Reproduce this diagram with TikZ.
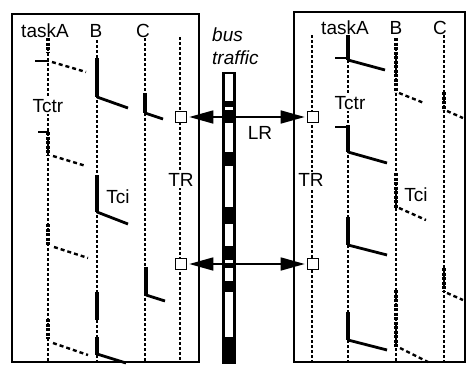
\documentclass[tikz,border=0pt]{standalone}
\usepackage{fontspec}
\setmainfont{Liberation Sans}
\usetikzlibrary{arrows.meta}
\begin{document}
\begin{tikzpicture}[x=1pt,y=-1pt,
  frame/.style={line width=2.3pt},
  lifeline/.style={line width=2.3pt, dash pattern=on 2.8pt off 2.2pt},
  busyline/.style={line width=4pt, dash pattern=on 3.2pt off 1.3pt},
  execbar/.style={line width=4.4pt},
  retline/.style={line width=2.8pt},
  msgline/.style={line width=2.4pt, dash pattern=on 4pt off 3pt},
  tickline/.style={line width=2.2pt},
  port/.style={draw, fill=white, line width=1.6pt, minimum size=11pt, inner sep=0pt},
  lbl/.style={font=\fontsize{19}{22}\selectfont, inner sep=1pt},
  cutlbl/.style={lbl, fill=white, inner sep=1.5pt},
  busarrow/.style={line width=1.6pt, {Triangle[length=24pt,width=13pt]}-{Triangle[length=24pt,width=13pt]}, shorten <=2pt, shorten >=2pt}
]
\useasboundingbox (0,0) rectangle (468,364);

% ---------------- left processor ----------------
\draw[frame] (12,14) rectangle (199,362);
\node[lbl, anchor=base] (lA) at (45,37) {taskA};
\node[lbl, anchor=base] (lB) at (96,37) {B};
\node[lbl, anchor=base] (lC) at (143,37) {C};

% taskA
\draw[lifeline] (48,38) -- (48,362);
\draw[busyline] (48,38) -- (48,52);
\draw[tickline] (35,61) -- (49,61);
\draw[msgline] (52,62) -- (86,72);
\draw[tickline] (38,132) -- (49,132);
\draw[busyline] (48,132) -- (48,155);
\draw[msgline] (53,156) -- (86,166);
\draw[busyline] (48,224) -- (48,245);
\draw[msgline] (54,247) -- (88,258);
\draw[busyline] (48,319) -- (48,339);
\draw[msgline] (53,343) -- (88,355);

% B
\draw[lifeline] (97,40) -- (97,362);
\draw[execbar] (97,58) -- (97,97);
\draw[retline] (97,97) -- (128,108);
\draw[execbar] (97,175) -- (97,212);
\draw[retline] (97,212) -- (128,224);
\draw[execbar] (97,292) -- (97,320);
\draw[execbar] (97,337) -- (97,355);
\draw[retline] (97,354) -- (126,363);

% C
\draw[lifeline] (145,38) -- (145,362);
\draw[execbar] (145,93) -- (145,113);
\draw[retline] (145,113) -- (163,119);
\draw[execbar] (146,267) -- (146,295);
\draw[retline] (146,295) -- (165,301);

% TR
\draw[lifeline] (180,37) -- (180,362);

\node[cutlbl] (lTctr) at (48,106) {Tctr};
\node[lbl] (lTci) at (118,197) {Tci};
\node[cutlbl] (lTR) at (181,180) {TR};

% ---------------- right processor ----------------
\draw[frame] (294,12) rectangle (465,362);
\node[lbl, anchor=base] (rA) at (345,34) {taskA};
\node[lbl, anchor=base] (rB) at (396,34) {B};
\node[lbl, anchor=base] (rC) at (440,34) {C};

% TR
\draw[lifeline] (312,35) -- (312,362);

% taskA
\draw[lifeline] (348,35) -- (348,362);
\draw[execbar] (348,35) -- (348,60);
\draw[tickline] (335,58) -- (348,58);
\draw[retline] (348,60) -- (385,70);
\draw[tickline] (335,127) -- (349,127);
\draw[execbar] (348,125) -- (348,152);
\draw[retline] (348,152) -- (387,163);
\draw[execbar] (348,217) -- (348,245);
\draw[retline] (348,245) -- (387,255);
\draw[execbar] (348,312) -- (348,340);
\draw[retline] (348,340) -- (387,350);

% B
\draw[lifeline] (396,38) -- (396,362);
\draw[busyline] (396,38) -- (396,92);
\draw[msgline] (399,93) -- (424,103);
\draw[busyline] (396,173) -- (396,208);
\draw[msgline] (399,208) -- (426,220);
\draw[busyline] (396,290) -- (396,347);
\draw[msgline] (400,348) -- (428,362);

% C
\draw[lifeline] (444,35) -- (444,362);
\draw[busyline] (444,92) -- (444,110);
\draw[msgline] (447,111) -- (463,118);
\draw[busyline] (444,268) -- (444,292);
\draw[msgline] (447,293) -- (463,300);

\node[cutlbl] (rTctr) at (350,103) {Tctr};
\node[lbl] (rTci) at (416,195) {Tci};
\node[cutlbl] (rTR) at (311,180) {TR};

% ---------------- bus ----------------
\fill (222,72) rectangle (236,364);
\foreach \a/\b in {74/101, 107/110, 123/152, 166/207, 224/246, 260/263, 268/281, 292/337}
  \fill[white] (225,\a) rectangle (233,\b);
\node[lbl, font=\fontsize{19}{22}\selectfont\itshape, anchor=base west, inner sep=0pt] (bus1) at (212,41) {bus};
\node[lbl, font=\fontsize{19}{22}\selectfont\itshape, anchor=base west, inner sep=0pt] (bus2) at (212,64) {traffic};

% ports and transfers
\node[port] (pL1) at (181,117) {};
\node[port] (pR1) at (313,117) {};
\node[port] (pL2) at (181,264) {};
\node[port] (pR2) at (313,264) {};
\draw[busarrow] (pL1.east) -- (pR1.west);
\draw[busarrow] (pL2.east) -- (pR2.west);
\node[lbl] (lr) at (260,133) {LR};
\end{tikzpicture}
\end{document}
